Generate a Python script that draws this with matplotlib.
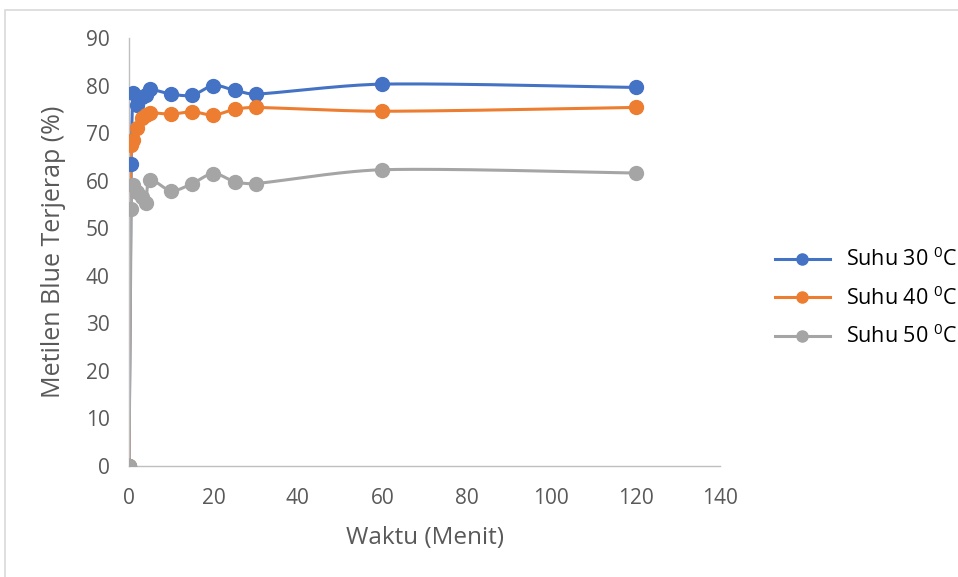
import matplotlib.pyplot as plt
from matplotlib.patches import Rectangle
import numpy as np

# === data ===
waktu = [0, 0.5, 1, 2, 3, 4, 5, 10, 15, 20, 25, 30, 60, 120]
suhu_30 = [0, 63.5, 78.5, 76.0, 77.6, 78.0, 79.2, 78.2, 78.0, 80.0, 79.0, 78.2, 80.3, 79.6]
suhu_40 = [0, 67.5, 68.5, 71.0, 73.2, 73.8, 74.3, 74.0, 74.5, 73.8, 75.0, 75.4, 74.6, 75.4]
suhu_50 = [0, 54.0, 59.1, 57.7, 56.5, 55.4, 60.1, 57.9, 59.4, 61.5, 59.8, 59.4, 62.3, 61.6]
labels = ['Suhu 30 $^{\\mathregular{0}}$C', 'Suhu 40 $^{\\mathregular{0}}$C', 'Suhu 50 $^{\\mathregular{0}}$C']
colors = ['#4472C4', '#ED7D31', '#A5A5A5']

plt.rcParams['font.family'] = ['Open Sans', 'DejaVu Sans']
plt.rcParams['mathtext.fontset'] = 'custom'
plt.rcParams['mathtext.rm'] = 'Open Sans'


def smooth(ax, xs, ys, n=30):
    # Bezier smoothing done in screen space (like Excel's smoothed lines)
    pts = ax.transData.transform(np.column_stack([xs, ys]))
    out = [pts[0]]

    def clamp(v, lim):
        d = np.hypot(*v)
        return v if d <= lim or d == 0 else v * lim / d

    for i in range(len(pts) - 1):
        p0 = pts[max(i - 1, 0)]
        p1 = pts[i]
        p2 = pts[i + 1]
        p3 = pts[min(i + 2, len(pts) - 1)]
        seglen = np.hypot(*(p2 - p1))
        c1 = p1 + clamp((p2 - p0) / 6, seglen / 3)
        c2 = p2 - clamp((p3 - p1) / 6, seglen / 3)
        t = np.linspace(0, 1, n)[1:, None]
        seg = ((1 - t) ** 3) * p1 + 3 * ((1 - t) ** 2) * t * c1 + 3 * (1 - t) * t ** 2 * c2 + t ** 3 * p2
        out.extend(seg)
    out = ax.transData.inverted().transform(np.array(out))
    return out[:, 0], out[:, 1]


# === plotting ===
fig = plt.figure(figsize=(9.58, 5.77), dpi=100)
fig.patches.append(Rectangle((5 / 958, -0.1), 1.1, 1 - 10 / 577 + 0.1, transform=fig.transFigure,
                             fill=False, edgecolor='#D9D9D9', linewidth=1.2))
ax = fig.add_axes([129 / 958, 111 / 577, 591 / 958, 428 / 577])
ax.set_xlim(0, 140)
ax.set_ylim(0, 90)

for ys, lab, c in zip([suhu_30, suhu_40, suhu_50], labels, colors):
    sx, sy = smooth(ax, waktu, ys)
    ax.plot(sx, sy, color=c, linewidth=2.2, zorder=2)
    ax.plot(waktu, ys, linestyle='none', marker='o', markersize=10, color=c, zorder=3)
    ax.plot([], [], color=c, linewidth=2.2, marker='o', markersize=8, label=lab)

ax.set_xticks(range(0, 141, 20))
ax.set_yticks(range(0, 91, 10))
ax.tick_params(length=0, labelsize=15, labelcolor='#595959')
ax.tick_params(axis='x', pad=16)
ax.tick_params(axis='y', pad=14)
for s in ['top', 'right']:
    ax.spines[s].set_visible(False)
for s in ['left', 'bottom']:
    ax.spines[s].set_color('#BFBFBF')
    ax.spines[s].set_linewidth(1)
ax.set_xlabel('Waktu (Menit)', fontsize=17.5, color='#595959', labelpad=12)
ax.set_ylabel('Metilen Blue Terjerap (%)', fontsize=18, color='#595959', labelpad=14)

fig.legend(loc='center left', bbox_to_anchor=(775 / 958, 1 - 298 / 577), frameon=False,
           fontsize=15.5, handlelength=2.55, labelspacing=0.7, handletextpad=0.75,
           borderpad=0, borderaxespad=0)

plt.savefig('out.png', dpi=100)
